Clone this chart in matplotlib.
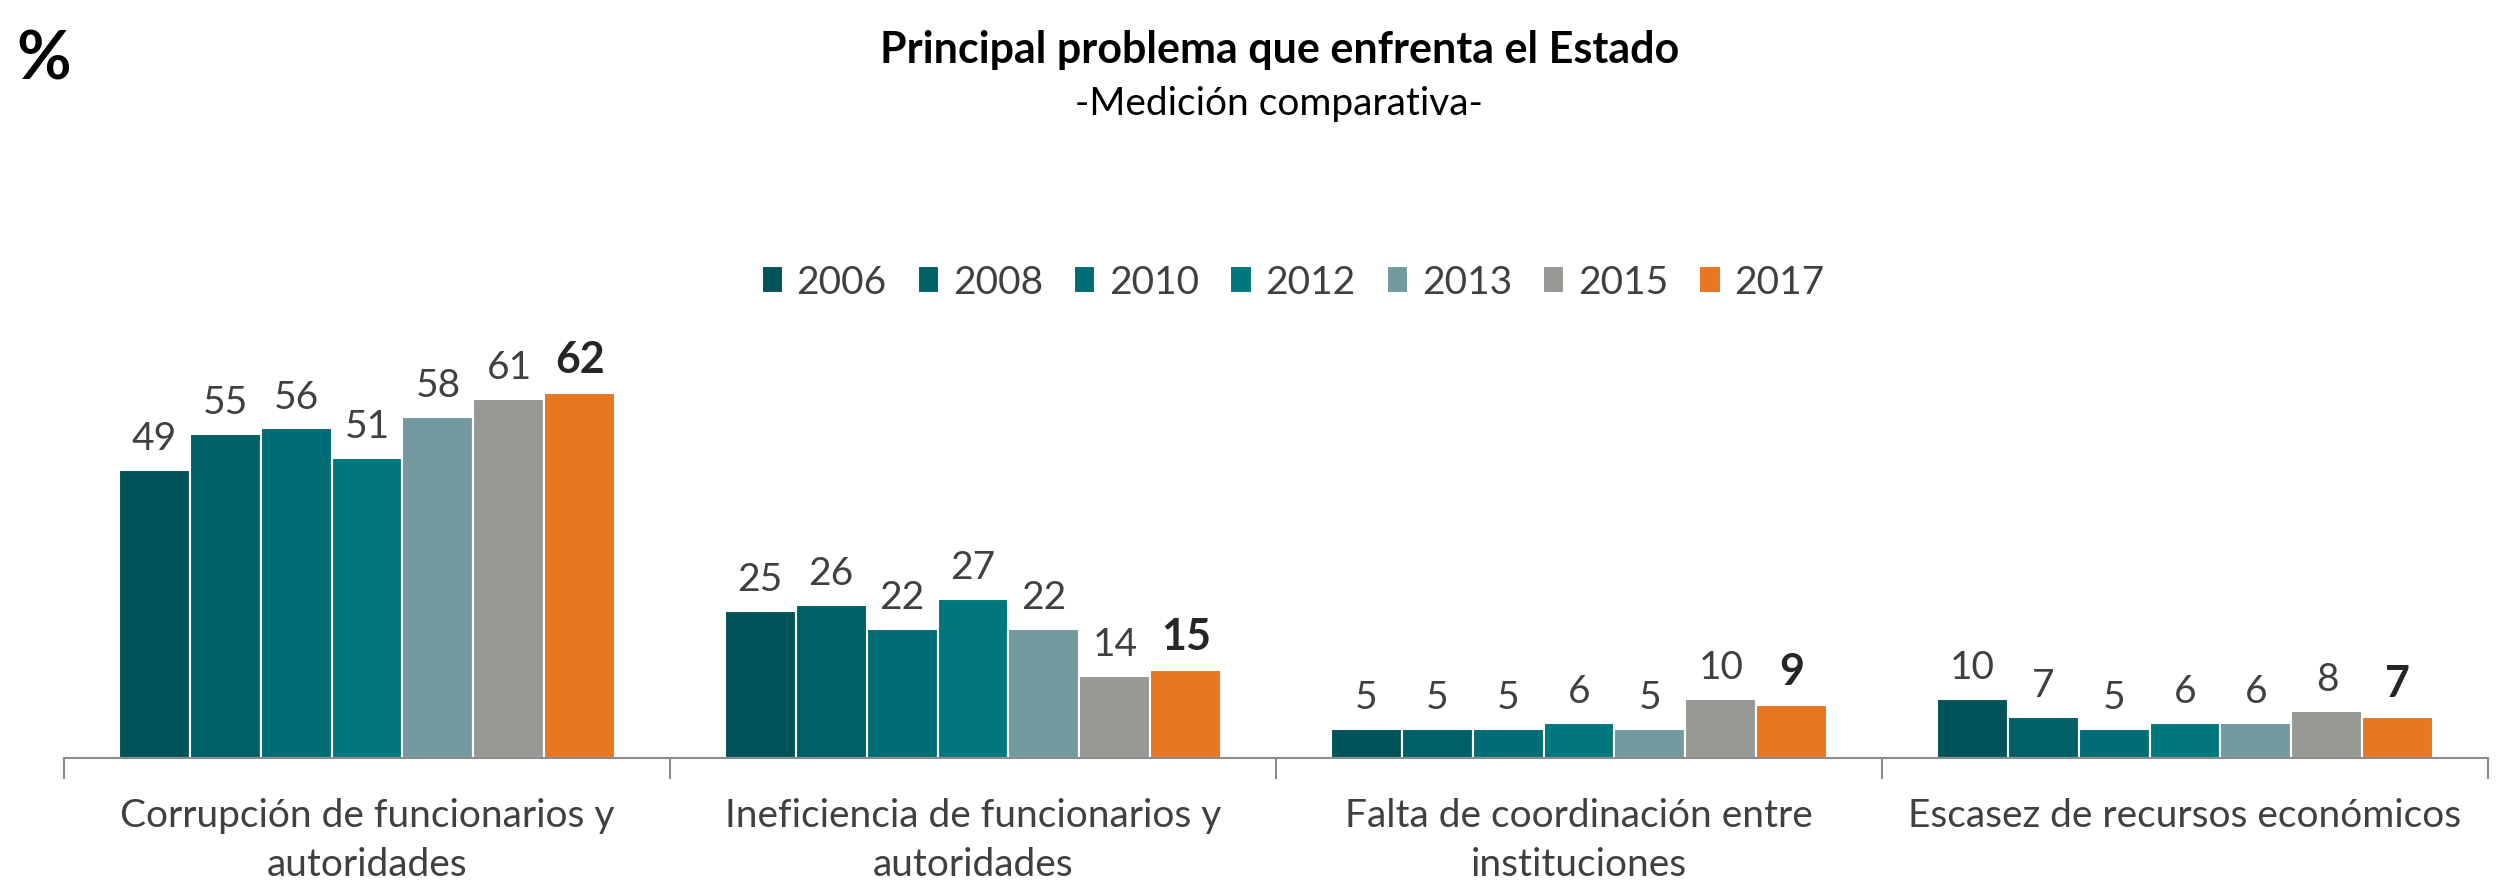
import matplotlib
matplotlib.use("Agg")
import matplotlib.pyplot as plt
import numpy as np

plt.rcParams['font.family'] = ['Lato', 'DejaVu Sans']

categorias = ['Corrupción de funcionarios y\nautoridades',
              'Ineficiencia de funcionarios y\nautoridades',
              'Falta de coordinación entre\ninstituciones',
              'Escasez de recursos económicos']
anios = ['2006', '2008', '2010', '2012', '2013', '2015', '2017']
valores = {
    '2006': [49, 25, 5, 10],
    '2008': [55, 26, 5, 7],
    '2010': [56, 22, 5, 5],
    '2012': [51, 27, 6, 6],
    '2013': [58, 22, 5, 6],
    '2015': [61, 14, 10, 8],
    '2017': [62, 15, 9, 7],
}
colores = ['#01535A', '#006068', '#006D74', '#00777D', '#74999F', '#979994', '#E87722']

fig = plt.figure(figsize=(25.06, 8.87), dpi=100)
ax = fig.add_axes([64 / 2506, 1 - 759 / 887, (2488 - 64) / 2506, 459 / 887])

x = np.arange(len(categorias))
ancho = 0.82 / len(anios)
for i, anio in enumerate(anios):
    pos = x - 0.41 + ancho * (i + 0.5)
    barras = ax.bar(pos, valores[anio], ancho, color=colores[i],
                    edgecolor='white', linewidth=1.5, label=anio)
    for b, v in zip(barras, valores[anio]):
        ultimo = anio == '2017'
        ax.annotate(str(v), (b.get_x() + b.get_width() / 2, v),
                    xytext=(0, 10), textcoords='offset points',
                    ha='center', va='bottom',
                    fontsize=31 if ultimo else 28,
                    fontweight='bold' if ultimo else 'normal',
                    color='#262626' if ultimo else '#404040')

ax.set_xlim(-0.5, len(categorias) - 0.5)
ax.set_ylim(0, 78)
ax.set_yticks([])
for s in ['top', 'right', 'left']:
    ax.spines[s].set_visible(False)
ax.spines['bottom'].set_color('#8c8c8c')
ax.spines['bottom'].set_linewidth(1.5)

ax.set_xticks(x)
ax.set_xticklabels(categorias, fontsize=28, color='#404040', linespacing=1.45)
ax.tick_params(axis='x', which='major', length=0, pad=28)
ax.set_xticks(np.arange(-0.5, len(categorias)), minor=True)
ax.tick_params(axis='x', which='minor', length=15, width=1.5, color='#8c8c8c')

ax.legend(loc='center', bbox_to_anchor=(0.507, (759 - 283) / 459), ncol=7,
          frameon=False, fontsize=28, handlelength=0.55, handleheight=0.7,
          handletextpad=0.35, columnspacing=0.8, labelcolor='#404040')

fig.text(0.5105, 1 - 50 / 887, 'Principal problema que enfrenta el Estado',
         ha='center', va='center', fontsize=31, fontweight='bold', color='black')
fig.text(0.5105, 1 - 104 / 887, '-Medición comparativa-',
         ha='center', va='center', fontsize=28, color='black')
fig.text(0.0065, 1 - 60 / 887, '%', ha='left', va='center',
         fontsize=48, fontweight='bold', color='black')

fig.savefig('out.png', dpi=100)
